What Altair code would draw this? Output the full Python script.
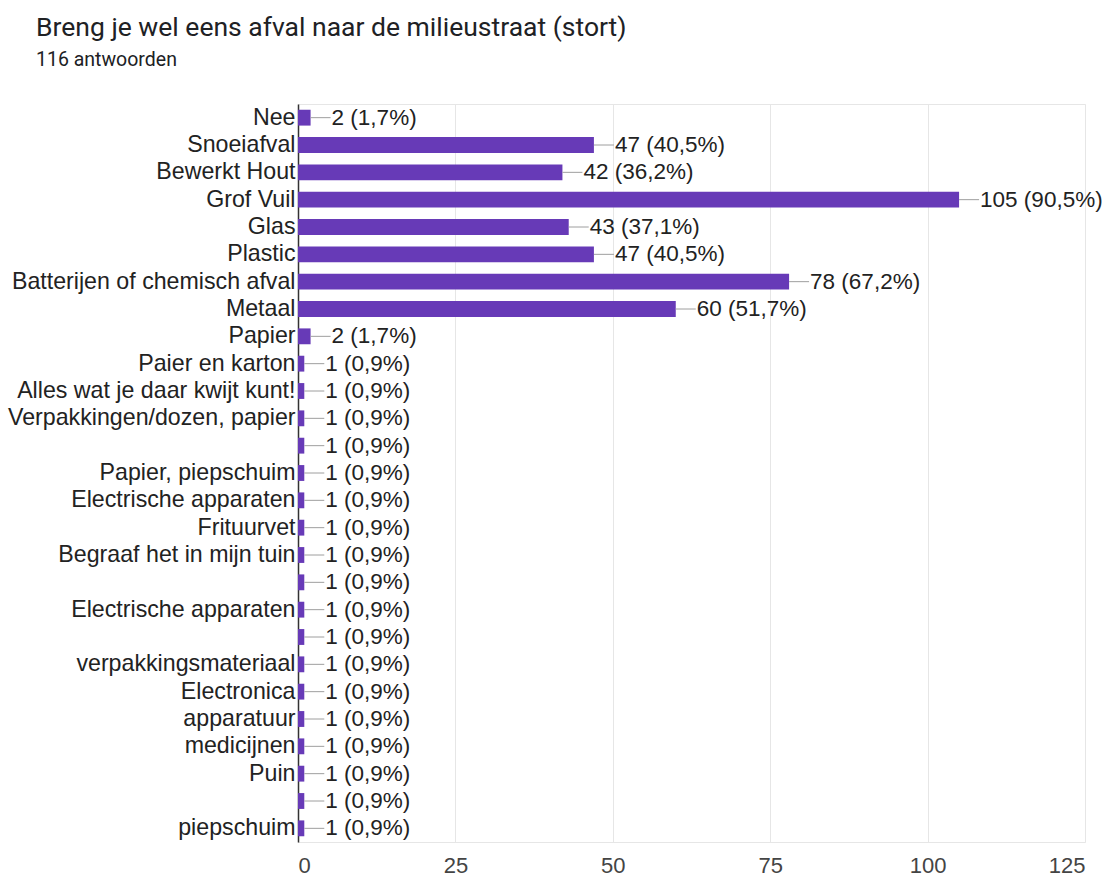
import json
import altair as alt
import pandas as pd

TOTAL = 116
labels = [
    "Nee", "Snoeiafval", "Bewerkt Hout", "Grof Vuil", "Glas", "Plastic",
    "Batterijen of chemisch afval", "Metaal", "Papier", "Paier en karton",
    "Alles wat je daar kwijt kunt!", "Verpakkingen/dozen, papier", "",
    "Papier, piepschuim", "Electrische apparaten", "Frituurvet",
    "Begraaf het in mijn tuin", "", "Electrische apparaten", "",
    "verpakkingsmateriaal", "Electronica", "apparatuur", "medicijnen",
    "Puin", "", "piepschuim",
]
values = [2, 47, 42, 105, 43, 47, 78, 60, 2, 1, 1, 1, 1, 1, 1, 1, 1, 1, 1, 1,
          1, 1, 1, 1, 1, 1, 1]
x_ticks = [0, 25, 50, 75, 100, 125]

def pct_text(v):
    p = f"{v / TOTAL * 100:.1f}".replace(".", ",")
    return f"{v} ({p}%)"

df = pd.DataFrame({
    "idx": list(range(len(labels))),
    "label": labels,
    "value": values,
    "text": [pct_text(v) for v in values],
})

label_expr = json.dumps(labels) + "[datum.value]"

FONT = "Liberation Sans"

y_enc = alt.Y(
    "idx:O",
    sort="ascending",
    title=None,
    scale=alt.Scale(paddingInner=0.42, paddingOuter=0.21),
    axis=alt.Axis(
        labelExpr=label_expr,
        labelFont=FONT,
        labelFontSize=23.2,
        labelColor="#222222",
        labelPadding=3,
        labelLimit=0,
        ticks=False,
        domainColor="#333333",
        domainWidth=1.5,
        grid=False,
    ),
)

x_enc = alt.X(
    "value:Q",
    title=None,
    scale=alt.Scale(domain=[0, 125], nice=False),
    axis=alt.Axis(
        values=x_ticks,
        labelFont=FONT,
        labelFontSize=22,
        labelColor="#444444",
        labelPadding=13,
        ticks=False,
        domain=False,
        grid=True,
        gridColor="#e6e6e6",
        gridWidth=1,
    ),
)

base = alt.Chart(df)

bars = base.mark_bar(color="#673ab7").encode(x=x_enc, y=y_enc)

rules = base.mark_rule(color="#9e9e9e", strokeWidth=1, x2Offset=20).encode(
    x="value:Q", x2="value:Q", y=alt.Y("idx:O", sort="ascending")
)

texts = base.mark_text(
    align="left", baseline="middle", dx=21, font=FONT, fontSize=22.5,
    color="#222222",
).encode(x="value:Q", y=alt.Y("idx:O", sort="ascending"), text="text:N")

chart = (
    alt.layer(bars, rules, texts)
    .properties(
        width=787,
        height=738,
        title=alt.TitleParams(
            text="Breng je wel eens afval naar de milieustraat (stort)",
            subtitle="116 antwoorden",
            anchor="start",
            frame="group",
            dx=-262,
            offset=35,
            font="Roboto",
            fontSize=26.5,
            fontWeight="normal",
            color="#202124",
            subtitleFont="Roboto",
            subtitleFontSize=19.5,
            subtitleColor="#202124",
            subtitlePadding=9,
        ),
        autosize=alt.AutoSizeParams(type="none"),
        padding={"left": 298, "top": 104, "right": 21, "bottom": 34},
    )
    .configure_view(stroke="#e6e6e6", strokeWidth=1)
)

chart.save("out.html", embed_options={"renderer": "svg", "actions": False})
